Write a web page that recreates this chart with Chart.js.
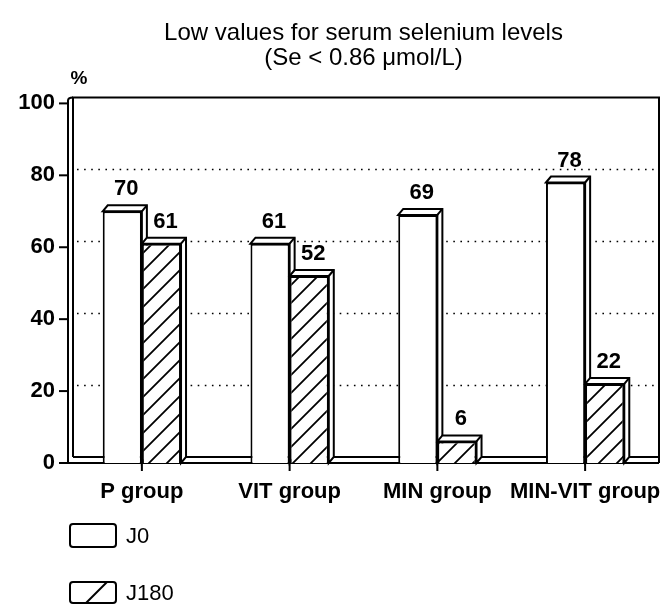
<!DOCTYPE html>
<html>
<head>
<meta charset="utf-8">
<script src="https://cdn.jsdelivr.net/npm/chart.js@4.4.1/dist/chart.umd.min.js"></script>
<style>
html,body{margin:0;padding:0;background:#fff;}
#wrap{width:665px;height:605px;}
</style>
</head>
<body>
<div id="wrap"><canvas id="c" width="665" height="605"></canvas></div>
<script>
// ---- data ----
const categories = ['P group', 'VIT group', 'MIN group', 'MIN-VIT group'];
const seriesNames = ['J0', 'J180'];
const valuesJ0 = [70, 61, 69, 78];
const valuesJ180 = [61, 52, 6, 22];
const yTicks = [0, 20, 40, 60, 80, 100];
const titleLines = ['Low values for serum selenium levels', '(Se < 0.86 \u03bcmol/L)'];
const yUnit = '%';

// ---- styling ----
const FONT = '"Liberation Sans", Arial, Helvetica, sans-serif';
const DX = 5, DY = 6; // 3D depth

function makeHatch() {
  const s = 18;
  const c = document.createElement('canvas');
  c.width = s; c.height = s;
  const g = c.getContext('2d');
  g.fillStyle = '#fff';
  g.fillRect(0, 0, s, s);
  g.strokeStyle = '#000';
  g.lineWidth = 1.8;
  g.beginPath();
  g.moveTo(-2, s + 2); g.lineTo(s + 2, -2);
  g.moveTo(-2, 2); g.lineTo(2, -2);
  g.moveTo(s - 2, s + 2); g.lineTo(s + 2, s - 2);
  g.stroke();
  return c;
}
const ctx0 = document.getElementById('c').getContext('2d');
const hatch = ctx0.createPattern(makeHatch(), 'repeat');

const frame3d = {
  id: 'frame3d',
  beforeDatasetsDraw(chart) {
    const ctx = chart.ctx, a = chart.chartArea;
    const ys = chart.scales.y;
    ctx.save();
    ctx.strokeStyle = '#000';
    // dotted grid lines on back wall
    ctx.lineWidth = 1.6;
    ctx.setLineDash([1.6, 5.5]);
    yTicks.forEach(v => {
      if (v === yTicks[0] || v === yTicks[yTicks.length - 1]) return;
      const y = Math.round(ys.getPixelForValue(v) - DY) + 0.5;
      ctx.beginPath(); ctx.moveTo(a.left + DX + 4, y); ctx.lineTo(a.right - 2, y); ctx.stroke();
    });
    ctx.setLineDash([]);
    ctx.lineWidth = 2;
    // top and right frame
    const topB = a.top - DY;
    ctx.beginPath();
    ctx.moveTo(a.left + DX, a.bottom - DY);
    ctx.lineTo(a.left + DX, topB);
    ctx.lineTo(a.right, topB);
    ctx.lineTo(a.right, a.bottom);
    ctx.stroke();
    // front left wall edge
    ctx.beginPath();
    ctx.moveTo(a.left, a.bottom);
    ctx.lineTo(a.left, topB + 3);
    ctx.quadraticCurveTo(a.left, topB, a.left + DX, topB);
    ctx.stroke();
    // floor
    ctx.beginPath();
    ctx.moveTo(a.left + DX, a.bottom - DY); ctx.lineTo(a.right, a.bottom - DY);
    ctx.stroke();
    ctx.beginPath();
    ctx.moveTo(a.left - 6, a.bottom); ctx.lineTo(a.right, a.bottom);
    ctx.stroke();
    // y tick marks
    yTicks.forEach(v => {
      const y = ys.getPixelForValue(v);
      ctx.beginPath(); ctx.moveTo(a.left - 9, y); ctx.lineTo(a.left, y); ctx.stroke();
    });
    // bar depth
    chart.data.datasets.forEach((ds, i) => {
      const meta = chart.getDatasetMeta(i);
      meta.data.forEach(bar => {
        const p = bar.getProps(['x', 'y', 'base', 'width'], true);
        const l = p.x - p.width / 2, r = p.x + p.width / 2;
        ctx.beginPath();
        ctx.moveTo(l, p.y);
        ctx.lineTo(l + DX, p.y - DY);
        ctx.lineTo(r + DX, p.y - DY);
        ctx.lineTo(r + DX, p.base - DY);
        ctx.lineTo(r, p.base);
        ctx.lineTo(r, p.y);
        ctx.closePath();
        ctx.fillStyle = '#fff';
        ctx.fill();
        ctx.lineWidth = 2;
        ctx.stroke();
        ctx.beginPath();
        ctx.moveTo(r, p.y); ctx.lineTo(r + DX, p.y - DY);
        ctx.stroke();
      });
    });
    ctx.restore();
  },
  afterDatasetsDraw(chart) {
    const ctx = chart.ctx, a = chart.chartArea;
    const xs = chart.scales.x;
    ctx.save();
    ctx.strokeStyle = '#000';
    ctx.lineWidth = 2;
    // x tick marks
    categories.forEach((c, i) => {
      const x = xs.getPixelForTick(i);
      ctx.beginPath(); ctx.moveTo(x, a.bottom - 4); ctx.lineTo(x, a.bottom + 8); ctx.stroke();
    });
    // value labels
    ctx.fillStyle = '#000';
    ctx.font = 'bold 22px ' + FONT;
    ctx.textAlign = 'center';
    ctx.textBaseline = 'alphabetic';
    chart.data.datasets.forEach((ds, i) => {
      const meta = chart.getDatasetMeta(i);
      meta.data.forEach((bar, j) => {
        const p = bar.getProps(['x', 'y'], true);
        ctx.fillText(String(ds.data[j]), p.x + 4, p.y - 16);
      });
    });
    // unit label
    ctx.font = 'bold 19px ' + FONT;
    ctx.textAlign = 'center';
    ctx.textBaseline = 'middle';
    ctx.fillText(yUnit, 79, 79);
    // legend
    const items = [
      {label: seriesNames[0], y: 524, h: 23, hatch: false},
      {label: seriesNames[1], y: 582, h: 21, hatch: true}
    ];
    items.forEach(it => {
      const x = 70, w = 46;
      ctx.lineWidth = 2;
      ctx.beginPath();
      ctx.roundRect(x, it.y, w, it.h, 3);
      ctx.fillStyle = '#fff';
      ctx.fill();
      ctx.stroke();
      if (it.hatch) {
        ctx.beginPath();
        ctx.moveTo(x + 16, it.y + it.h);
        ctx.lineTo(x + 37, it.y);
        ctx.stroke();
      }
      ctx.fillStyle = '#000';
      ctx.font = '22px ' + FONT;
      ctx.textAlign = 'left';
      ctx.textBaseline = 'middle';
      ctx.fillText(it.label, 126, it.y + it.h / 2 + 1);
    });
    ctx.restore();
  }
};

new Chart(document.getElementById('c'), {
  type: 'bar',
  data: {
    labels: categories,
    datasets: [
      {label: seriesNames[0], data: valuesJ0, backgroundColor: '#fff', borderColor: '#000', borderWidth: 2,
       categoryPercentage: 0.53, barPercentage: 1},
      {label: seriesNames[1], data: valuesJ180, backgroundColor: hatch, borderColor: '#000', borderWidth: 2,
       categoryPercentage: 0.53, barPercentage: 1}
    ]
  },
  options: {
    responsive: false,
    animation: false,
    devicePixelRatio: 1,
    layout: {padding: {top: 8, right: 6, bottom: 0, left: 0}},
    plugins: {
      legend: {display: false},
      tooltip: {enabled: false},
      title: {
        display: true,
        text: titleLines,
        fullSize: false,
        color: '#000',
        font: {family: FONT, size: 24, weight: 'normal', lineHeight: 1.05},
        padding: {top: 13, bottom: 32}
      }
    },
    scales: {
      x: {
        offset: true,
        grid: {display: false, drawTicks: false},
        border: {display: false},
        ticks: {color: '#000', font: {family: FONT, size: 22, weight: 'bold'}, padding: 16, maxRotation: 0, autoSkip: false},
        afterFit(s) { s.height = 142; s.paddingLeft = 0; s.paddingRight = 0; }
      },
      y: {
        min: 0, max: 100,
        afterBuildTicks(s) { s.ticks = yTicks.map(v => ({value: v})); },
        grid: {display: false, drawTicks: false},
        border: {display: false},
        ticks: {color: '#000', font: {family: FONT, size: 22, weight: 'bold'}, padding: 13},
        afterFit(s) { s.width = 68; }
      }
    }
  },
  plugins: [frame3d]
});
</script>
</body>
</html>
